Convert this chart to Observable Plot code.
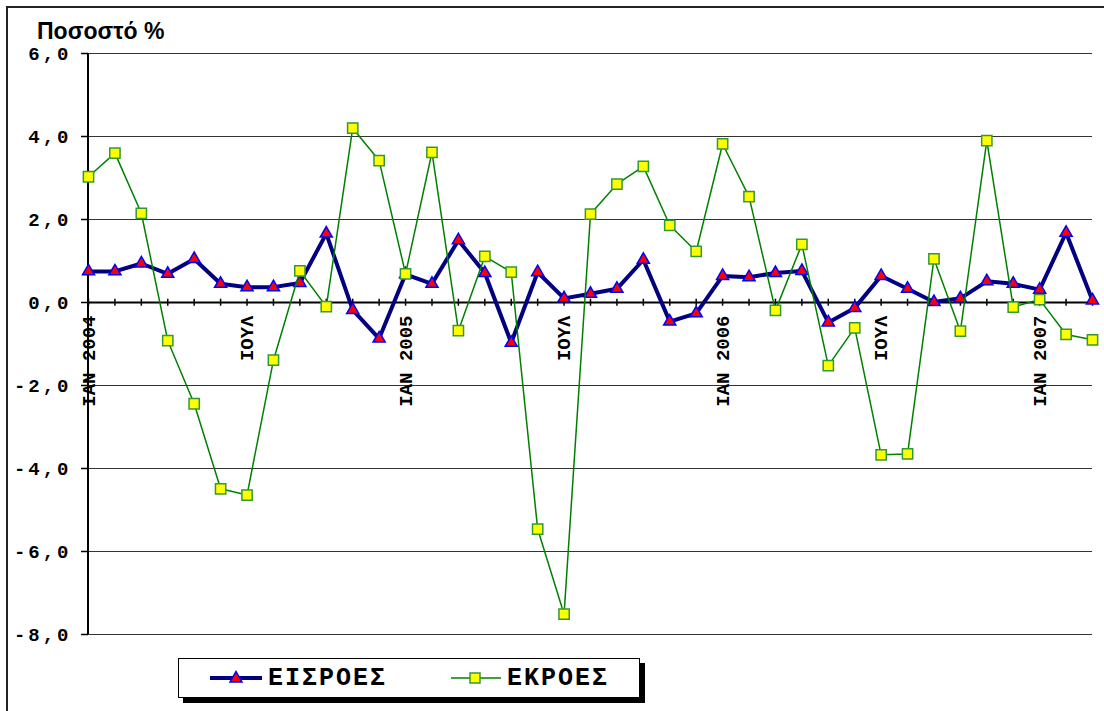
<!DOCTYPE html>
<html><head><meta charset="utf-8">
<script src="https://cdn.jsdelivr.net/npm/d3@7"></script>
<script src="https://cdn.jsdelivr.net/npm/@observablehq/plot@0.6"></script>
<style>
body{margin:0;background:#fff;}
#wrap{position:relative;width:1104px;height:711px;overflow:hidden;background:#fff;}
#frame{position:absolute;left:6px;top:6px;width:1200px;height:800px;border-top:2px solid #222;border-left:2px solid #222;pointer-events:none;}
#title{position:absolute;left:37px;top:20px;font:bold 23px 'Liberation Sans',Arial,sans-serif;line-height:22px;color:#000;white-space:nowrap;}
#legend{position:absolute;left:178px;top:658px;width:460px;height:38px;border:1px solid #000;background:#fff;box-shadow:5px 5px 0 #000;font:bold 25px 'Liberation Mono',monospace;color:#000;}
#legend .item{display:flex;align-items:center;position:absolute;top:0;height:38px;}
#legend span{letter-spacing:2px;}
#legend svg{display:block;}
#chart{position:absolute;left:0;top:0;}
</style></head><body>
<div id="wrap">
<div id="chart"></div>
<div id="title">Ποσοστό %</div>
<div id="legend">
  <div class="item" style="left:30px"><svg width="54" height="20"><line x1="1" y1="10" x2="53" y2="10" stroke="#000080" stroke-width="4"/><path transform="translate(27,10)" d="M0,-6.5L6,4L-6,4Z" fill="#ff0000" stroke="#0000ff" stroke-width="1.5"/></svg><span style="margin-left:5px">ΕΙΣΡΟΕΣ</span></div>
  <div class="item" style="left:271px"><svg width="52" height="20"><line x1="1" y1="10" x2="51" y2="10" stroke="#008000" stroke-width="1.5"/><rect x="20" y="5" width="10" height="10" fill="#ffff00" stroke="#339933" stroke-width="1.5"/></svg><span style="margin-left:5px">ΕΚΡΟΕΣ</span></div>
</div>
<div id="frame"></div>
</div>
<script>
const months = ["2004-01","2004-02","2004-03","2004-04","2004-05","2004-06","2004-07","2004-08","2004-09","2004-10","2004-11","2004-12",
"2005-01","2005-02","2005-03","2005-04","2005-05","2005-06","2005-07","2005-08","2005-09","2005-10","2005-11","2005-12",
"2006-01","2006-02","2006-03","2006-04","2006-05","2006-06","2006-07","2006-08","2006-09","2006-10","2006-11","2006-12",
"2007-01","2007-02","2007-03"];
const tickLabels = ["ΙΑΝ 2004","ΙΟΥΛ","ΙΑΝ 2005","ΙΟΥΛ","ΙΑΝ 2006","ΙΟΥΛ","ΙΑΝ 2007"];
const tickMonths = ["2004-01","2004-07","2005-01","2005-07","2006-01","2006-07","2007-01"];
const eisroes = [0.75,0.75,0.94,0.69,1.05,0.45,0.37,0.37,0.47,1.66,-0.18,-0.87,
0.68,0.45,1.5,0.71,-0.97,0.73,0.1,0.21,0.33,1.03,-0.46,-0.26,
0.64,0.61,0.71,0.76,-0.48,-0.13,0.64,0.33,0.01,0.1,0.51,0.45,
0.31,1.68,0.05];
const ekroes = [3.03,3.6,2.15,-0.92,-2.44,-4.49,-4.64,-1.39,0.76,-0.1,4.2,3.42,
0.69,3.62,-0.68,1.11,0.73,-5.46,-7.51,2.13,2.85,3.28,1.86,1.23,
3.82,2.55,-0.19,1.4,-1.52,-0.61,-3.67,-3.65,1.05,-0.69,3.9,-0.11,
0.07,-0.77,-0.9];
const yTicks = [-8,-6,-4,-2,0,2,4,6];

const rowsIn = months.map((m,i)=>({m, v:eisroes[i]}));
const rowsOut = months.map((m,i)=>({m, v:ekroes[i]}));
const tickRows = tickMonths.map((m,i)=>({m, label:tickLabels[i]}));

const chart = Plot.plot({
  width:1104, height:711,
  marginLeft:88, marginRight:12, marginTop:53, marginBottom:77,
  x:{type:"point", domain:months, padding:0, round:false, axis:null},
  y:{domain:[-8,6], axis:null, label:null},
  style:{fontFamily:"'Liberation Mono', monospace", background:"transparent", color:"#000"},
  marks:[
    Plot.ruleY(yTicks.filter(d=>d!==0), {stroke:"#333", strokeWidth:1}),
    Plot.axisY({ticks:yTicks, tickSize:7, tickPadding:10, strokeWidth:1.5, label:null,
      tickFormat:d=>d.toFixed(1).replace(".",","), fontSize:19, fontWeight:"bold"}),
    Plot.ruleX([months[0]], {y1:-8, y2:6, strokeWidth:2, stroke:"#000", dx:-0.5}),
    Plot.ruleY([0], {strokeWidth:2, stroke:"#000"}),
    Plot.ruleX(months, {y1:-0.09, y2:0.08, strokeWidth:1.5, stroke:"#000"}),
    Plot.text(tickRows, {x:"m", y:()=>0, text:"label", rotate:-90, textAnchor:"end", lineAnchor:"middle",
      dy:13, fontSize:19, fontWeight:"bold", fill:"#000"}),
    Plot.line(rowsIn, {x:"m", y:"v", stroke:"#000080", strokeWidth:4}),
    Plot.dot(rowsIn, {x:"m", y:"v", symbol:"triangle", r:4.5, fill:"#ff0000", stroke:"#0000ff", strokeWidth:1.5}),
    Plot.line(rowsOut, {x:"m", y:"v", stroke:"#008000", strokeWidth:1.5}),
    Plot.dot(rowsOut, {x:"m", y:"v", symbol:"square", r:5.8, fill:"#ffff00", stroke:"#339933", strokeWidth:1.5})
  ]
});
chart.querySelectorAll('g[aria-label="y-axis tick label"] text').forEach(t=>t.style.letterSpacing="3px");
document.getElementById("chart").appendChild(chart);
</script>
</body></html>
